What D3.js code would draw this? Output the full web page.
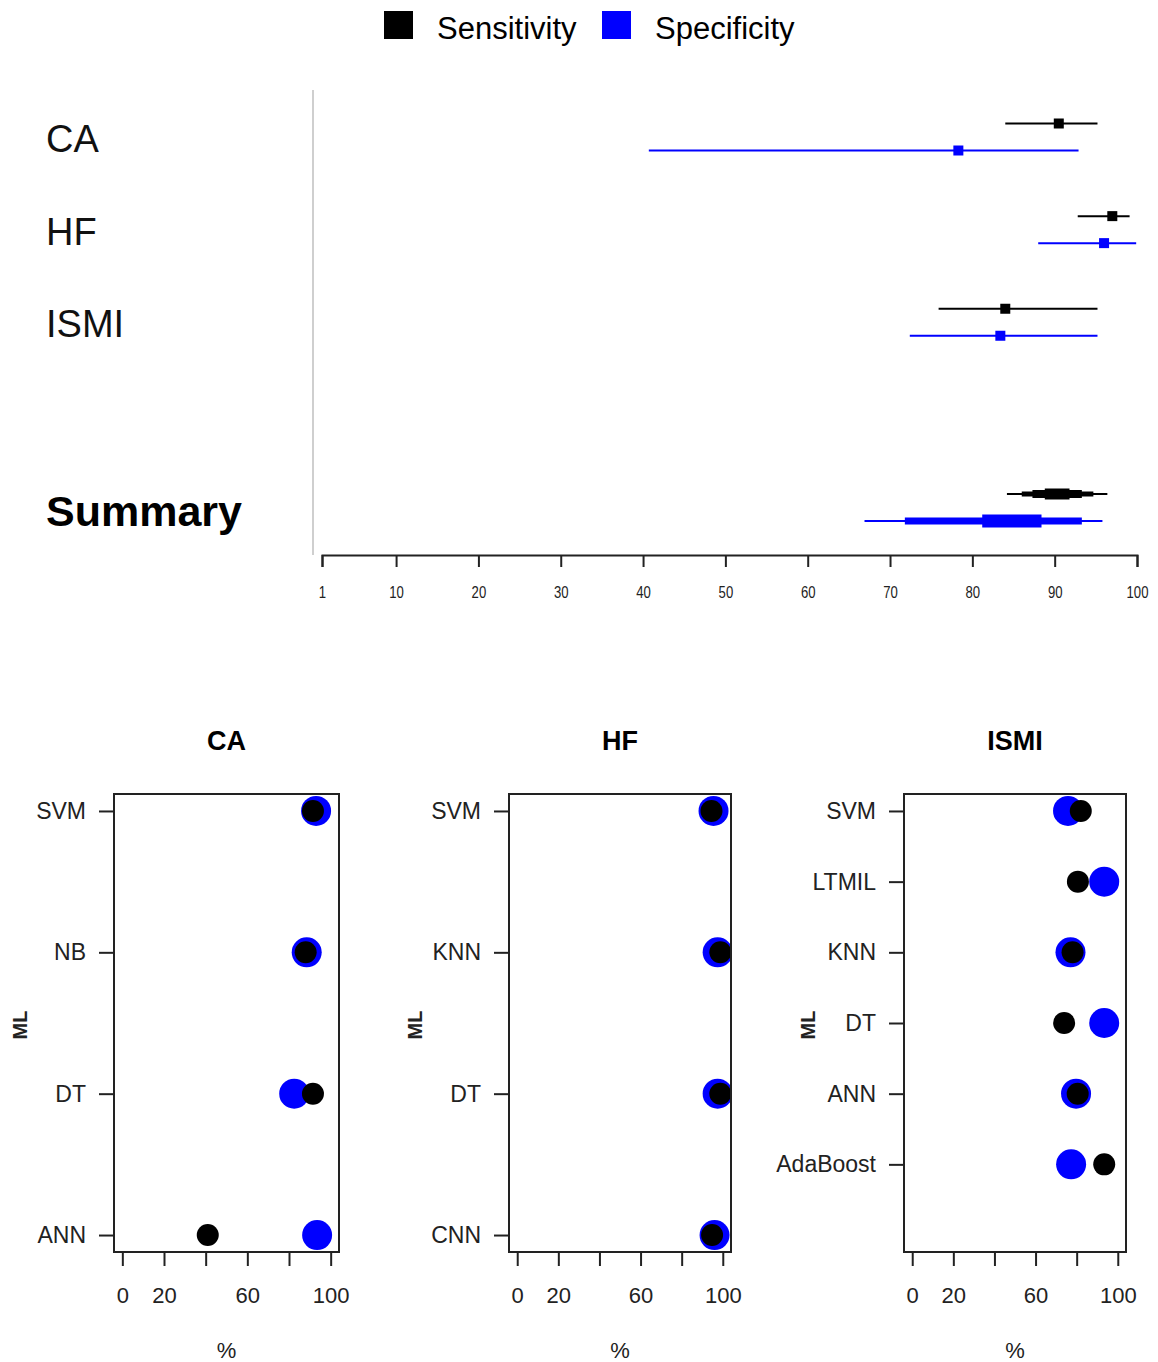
<!DOCTYPE html>
<html>
<head>
<meta charset="utf-8">
<script src="https://cdn.jsdelivr.net/npm/d3@7"></script>
<style>
  body { margin: 0; background: #fff; }
  svg { display: block; font-family: "Liberation Sans", Arial, sans-serif; }
  .axis path, .axis line { stroke: #222; stroke-width: 2; }
</style>
</head>
<body>
<div id="chart"></div>
<script>
// ---- forest plot data (top) ----
var studies = ["CA", "HF", "ISMI"];
var sensEst = [90.5, 97.0, 84.0];
var sensLo  = [84.0, 92.8, 75.9];
var sensHi  = [95.2, 99.1, 95.2];
var specEst = [78.3, 96.0, 83.4];
var specLo  = [40.7, 88.0, 72.4];
var specHi  = [92.9, 99.9, 95.2];

// summary intervals, outer (prediction) to inner
var sumSensLevels = [[84.2, 96.4], [86.0, 94.7], [87.3, 93.3], [88.8, 91.8]];
var sumSpecLevels = [[66.9, 95.8], [71.8, 93.3], [81.2, 88.4]];

var topTicks = [1, 10, 20, 30, 40, 50, 60, 70, 80, 90, 100];

// ---- dot charts (bottom) ----
var caModels = ["SVM", "NB", "DT", "ANN"];
var caSens   = [91.5, 88.0, 91.5, 41.0];
var caSpec   = [93.0, 88.5, 82.5, 93.5];

var hfModels = ["SVM", "KNN", "DT", "CNN"];
var hfSens   = [94.5, 98.8, 98.8, 94.8];
var hfSpec   = [95.5, 97.5, 97.5, 96.0];

var ismiModels = ["SVM", "LTMIL", "KNN", "DT", "ANN", "AdaBoost"];
var ismiSens   = [82.0, 80.6, 78.0, 73.9, 80.5, 93.4];
var ismiSpec   = [75.8, 93.4, 77.0, 93.4, 79.7, 77.3];

var dotTicks = [0, 20, 40, 60, 80, 100];
var dotLabels = [0, 20, 60, 100];

var SENS = "#000000", SPEC = "#0000ff";

var svg = d3.select("#chart").append("svg")
  .attr("width", 1158)
  .attr("height", 1362);

// legend
var legend = svg.append("g");
legend.append("rect").attr("x", 384).attr("y", 11).attr("width", 29).attr("height", 28).attr("fill", SENS);
legend.append("text").attr("x", 437).attr("y", 39).attr("font-size", 31).text("Sensitivity");
legend.append("rect").attr("x", 602).attr("y", 11).attr("width", 29).attr("height", 28).attr("fill", SPEC);
legend.append("text").attr("x", 655).attr("y", 39).attr("font-size", 31).text("Specificity");

// forest plot
var x = d3.scaleLinear().domain([1, 100]).range([322, 1137]);
var row = d3.scaleLinear().domain([0, 4]).range([137, 507.5]);
var off = 13.5;

svg.append("line")
  .attr("x1", 313).attr("x2", 313).attr("y1", 90).attr("y2", 555)
  .attr("stroke", "#cfcfcf").attr("stroke-width", 2);

studies.forEach(function(s, i) {
  svg.append("text")
    .attr("x", 46).attr("y", row(i) + 2)
    .attr("dominant-baseline", "central")
    .attr("font-size", 38).attr("fill", "#111")
    .text(s);

  var ys = row(i) - off, yp = row(i) + off;
  svg.append("line").attr("x1", x(sensLo[i])).attr("x2", x(sensHi[i]))
    .attr("y1", ys).attr("y2", ys).attr("stroke", SENS).attr("stroke-width", 2);
  svg.append("rect").attr("x", x(sensEst[i]) - 5).attr("y", ys - 5)
    .attr("width", 10).attr("height", 10).attr("fill", SENS);

  svg.append("line").attr("x1", x(specLo[i])).attr("x2", x(specHi[i]))
    .attr("y1", yp).attr("y2", yp).attr("stroke", SPEC).attr("stroke-width", 2);
  svg.append("rect").attr("x", x(specEst[i]) - 5).attr("y", yp - 5)
    .attr("width", 10).attr("height", 10).attr("fill", SPEC);
});

svg.append("text")
  .attr("x", 46).attr("y", row(4) + 3)
  .attr("dominant-baseline", "central")
  .attr("font-size", 43).attr("font-weight", "bold")
  .text("Summary");

var sensThick = [2, 5, 8, 11];
sumSensLevels.forEach(function(d, k) {
  var h = sensThick[k];
  svg.append("rect").attr("x", x(d[0])).attr("width", x(d[1]) - x(d[0]))
    .attr("y", row(4) - off - h / 2).attr("height", h).attr("fill", SENS);
});
var specThick = [2, 7, 13];
sumSpecLevels.forEach(function(d, k) {
  var h = specThick[k];
  svg.append("rect").attr("x", x(d[0])).attr("width", x(d[1]) - x(d[0]))
    .attr("y", row(4) + off - h / 2).attr("height", h).attr("fill", SPEC);
});

var topAxis = svg.append("g")
  .attr("class", "axis")
  .attr("transform", "translate(0,555)")
  .call(d3.axisBottom(x).tickValues(topTicks).tickSize(12).tickPadding(20).tickSizeOuter(12));
// narrow glyphs as in the original, kept centred on each tick
topAxis.selectAll(".tick text")
  .attr("font-size", 16).attr("fill", "#222")
  .attr("transform", "scale(0.82,1)");

// dot charts
var panels = [
  { title: "CA",   models: caModels,   sens: caSens,   spec: caSpec,   left: 114, right: 339, slots: 4, labelX: 20 },
  { title: "HF",   models: hfModels,   sens: hfSens,   spec: hfSpec,   left: 509, right: 731, slots: 4, labelX: 415 },
  { title: "ISMI", models: ismiModels, sens: ismiSens, spec: ismiSpec, left: 904, right: 1126, slots: 7, labelX: 808 }
];
var boxTop = 794, boxBottom = 1252;

panels.forEach(function(p, pi) {
  var n = p.slots;
  var px = d3.scaleLinear().domain([-4, 104]).range([p.left, p.right]);
  var py = d3.scaleLinear()
    .domain([1 - 0.04 * (n - 1), n + 0.04 * (n - 1)])
    .range([boxBottom, boxTop]);
  var slotOf = function(i) { return n - i; };

  var g = svg.append("g");

  g.append("text")
    .attr("x", (p.left + p.right) / 2).attr("y", 741)
    .attr("text-anchor", "middle").attr("dominant-baseline", "central")
    .attr("font-size", 27).attr("font-weight", "bold")
    .text(p.title);

  g.append("defs").append("clipPath").attr("id", "clip" + pi)
    .append("rect").attr("x", p.left).attr("y", boxTop)
    .attr("width", p.right - p.left).attr("height", boxBottom - boxTop);

  var dots = g.append("g").attr("clip-path", "url(#clip" + pi + ")");
  dots.selectAll("circle.spec").data(p.spec).enter().append("circle")
    .attr("class", "spec")
    .attr("cx", function(d) { return px(d); })
    .attr("cy", function(d, i) { return py(slotOf(i)); })
    .attr("r", 15).attr("fill", SPEC);
  dots.selectAll("circle.sens").data(p.sens).enter().append("circle")
    .attr("class", "sens")
    .attr("cx", function(d) { return px(d); })
    .attr("cy", function(d, i) { return py(slotOf(i)); })
    .attr("r", 11).attr("fill", SENS);

  g.append("rect")
    .attr("x", p.left).attr("y", boxTop)
    .attr("width", p.right - p.left).attr("height", boxBottom - boxTop)
    .attr("fill", "none").attr("stroke", "#222").attr("stroke-width", 2);

  var yAxis = g.append("g").attr("class", "axis")
    .attr("transform", "translate(" + p.left + ",0)")
    .call(d3.axisLeft(py)
      .tickValues(p.models.map(function(m, i) { return slotOf(i); }))
      .tickFormat(function(v) { return p.models[n - v]; })
      .tickSize(15).tickPadding(13));
  yAxis.select(".domain").remove();
  yAxis.selectAll("text").attr("font-size", 23).attr("fill", "#222");

  var xAxis = g.append("g").attr("class", "axis")
    .attr("transform", "translate(0," + boxBottom + ")")
    .call(d3.axisBottom(px)
      .tickValues(dotTicks)
      .tickFormat(function(v) { return dotLabels.indexOf(v) >= 0 ? v : ""; })
      .tickSize(14).tickPadding(21));
  xAxis.select(".domain").remove();
  xAxis.selectAll("text").attr("font-size", 22).attr("fill", "#222");

  g.append("text")
    .attr("x", (p.left + p.right) / 2).attr("y", 1350)
    .attr("text-anchor", "middle").attr("dominant-baseline", "central")
    .attr("font-size", 22).attr("fill", "#222")
    .text("%");

  g.append("text")
    .attr("transform", "translate(" + p.labelX + ",1025) rotate(-90)")
    .attr("text-anchor", "middle").attr("dominant-baseline", "central")
    .attr("font-size", 20).attr("font-weight", "bold").attr("fill", "#222")
    .text("ML");
});
</script>
</body>
</html>
